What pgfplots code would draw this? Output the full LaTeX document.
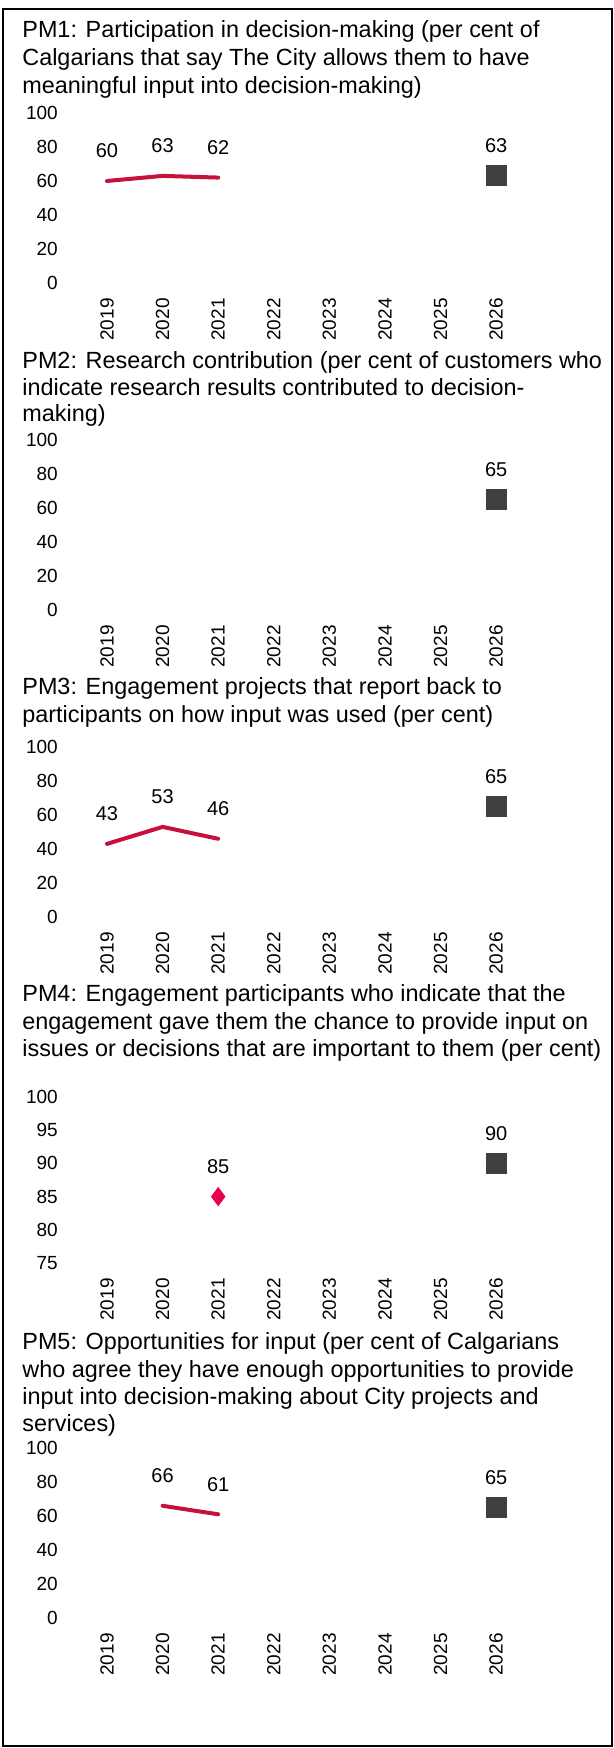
\documentclass[border=0pt]{standalone}
\usepackage{fontspec}
\setmainfont{Liberation Sans}
\usepackage{pgfplots}
\pgfplotsset{compat=1.18}

\definecolor{actual}{RGB}{200,16,60}
\definecolor{single}{RGB}{228,0,80}
\definecolor{target}{RGB}{64,64,64}

\pgfplotsset{
  pm/.style={
    scale only axis, width=222.4bp, height=85bp,
    xmin=-0.5, xmax=7.5, ymin=0, ymax=100, ytick={0,20,...,100},
    xtick={0,...,7},
    xticklabels={2019,2020,2021,2022,2023,2024,2025,2026},
    axis line style={draw=none}, major tick length=0pt,
    tick style={draw=none},
    /pgf/number format/assume math mode=true,
    ticklabel style={font=\fontsize{9.5bp}{11bp}\selectfont, inner sep=0pt},
    xticklabel style={rotate=90, anchor=east},
    xticklabel shift=7.5bp,
    yticklabel style={anchor=east},
    yticklabel shift=10.5bp,
    clip=false,
    nodes near coords,
    every node near coord/.append style={font=\fontsize{10bp}{12bp}\selectfont,
      anchor=center, yshift=15bp, inner sep=0pt, text=black},
  },
  actual/.style={color=actual, line width=2bp, line cap=round, line join=round, mark=none},
  target/.style={only marks, mark=square*, mark size=5bp, color=target},
}

\newcommand{\ttl}[2]{\node[anchor=base west, inner sep=0pt,
  font=\fontsize{11.7bp}{14bp}\selectfont] at (11bp,#1bp) {#2};}

\begin{document}
\begin{tikzpicture}
\path[use as bounding box] (0,0) rectangle (307bp,874bp);
\draw[line width=1.2bp] (1.5bp,1bp) rectangle (306bp,869.5bp);

% PM1
\ttl{855}{PM1: Participation in decision-making (per cent of}
\ttl{841}{Calgarians that say The City allows them to have}
\ttl{827}{meaningful input into decision-making)}
\begin{axis}[pm, at={(39.6bp,732.5bp)}, anchor=south west]
\addplot[actual] coordinates {(0,60) (1,63) (2,62)};
\addplot[target] coordinates {(7,63)};
\end{axis}

% PM2
\ttl{689.5}{PM2: Research contribution (per cent of customers who}
\ttl{676}{indicate research results contributed to decision-}
\ttl{663}{making)}
\begin{axis}[pm, at={(39.6bp,569bp)}, anchor=south west]
\addplot[target] coordinates {(7,65)};
\end{axis}

% PM3
\ttl{526.5}{PM3: Engagement projects that report back to}
\ttl{512.5}{participants on how input was used (per cent)}
\begin{axis}[pm, at={(39.6bp,415.5bp)}, anchor=south west]
\addplot[actual] coordinates {(0,43) (1,53) (2,46)};
\addplot[target] coordinates {(7,65)};
\end{axis}

% PM4
\ttl{373}{PM4: Engagement participants who indicate that the}
\ttl{359}{engagement gave them the chance to provide input on}
\ttl{345.5}{issues or decisions that are important to them (per cent)}
\begin{axis}[pm, at={(39.6bp,242.5bp)}, anchor=south west,
  height=83bp, ymin=75, ymax=100, ytick={75,80,...,100}]
\addplot[only marks, mark=diamond*, mark size=4.5bp, color=single] coordinates {(2,85)};
\addplot[target] coordinates {(7,90)};
\end{axis}

% PM5
\ttl{199}{PM5: Opportunities for input (per cent of Calgarians}
\ttl{185}{who agree they have enough opportunities to provide}
\ttl{171.5}{input into decision-making about City projects and}
\ttl{158}{services)}
\begin{axis}[pm, at={(39.6bp,65bp)}, anchor=south west]
\addplot[actual] coordinates {(1,66) (2,61)};
\addplot[target] coordinates {(7,65)};
\end{axis}
\end{tikzpicture}
\end{document}
